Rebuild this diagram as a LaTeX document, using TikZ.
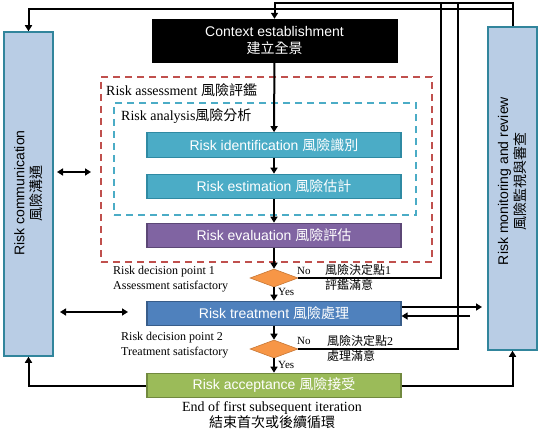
\documentclass[tikz,border=0pt]{standalone}
\usepackage{fontspec}
\setmainfont{Liberation Serif}
\newfontfamily\arial{Liberation Sans}
\newfontfamily\cjk{Noto Sans CJK TC}
\usetikzlibrary{arrows.meta,shapes.geometric}
\definecolor{idfill}{HTML}{4BACC6}
\definecolor{idbord}{HTML}{2F8AA3}
\definecolor{evfill}{HTML}{8064A2}
\definecolor{evbord}{HTML}{5C4776}
\definecolor{trfill}{HTML}{4F81BD}
\definecolor{trbord}{HTML}{385D8A}
\definecolor{acfill}{HTML}{9BBB59}
\definecolor{acbord}{HTML}{71893F}
\definecolor{dmfill}{HTML}{F79646}
\definecolor{dmbord}{HTML}{C77735}
\definecolor{sidefill}{HTML}{B9CDE5}
\definecolor{sidebord}{HTML}{31859C}
\definecolor{reddash}{HTML}{C0504D}
\definecolor{cyandash}{HTML}{4BACC6}
\tikzset{
  conn/.style={line width=2pt, -{Triangle[length=6pt,width=7pt]}},
  dconn/.style={line width=2pt, {Triangle[length=6pt,width=7pt]}-{Triangle[length=6pt,width=7pt]}},
  plain/.style={line width=2pt},
  stepbox/.style={rectangle, minimum width=254pt, minimum height=24.5pt, draw, line width=1.2pt,
    text=white, font=\arial\fontsize{14}{17}\selectfont, inner sep=0pt},
  sidebox/.style={rectangle, minimum width=49pt, fill=sidefill, draw=sidebord, line width=1.5pt,
    inner sep=0pt},
  sidetext/.style={rotate=90, align=center, font=\arial\fontsize{14}{17}\selectfont, inner sep=0pt},
  decision/.style={diamond, minimum width=48pt, minimum height=18pt, inner sep=0pt, aspect=2.7,
    fill=dmfill, draw=dmbord, line width=0.6pt},
  dashbox/.style={rectangle, line width=1.6pt, dash pattern=on 7pt off 5pt, inner sep=0pt},
  lbl/.style={inner sep=0pt, font=\fontsize{12}{15}\selectfont, align=left, anchor=west},
  biglbl/.style={inner sep=0pt, font=\fontsize{14}{16}\selectfont, anchor=west},
  yn/.style={inner sep=0pt, font=\fontsize{11}{13}\selectfont, anchor=west},
}
\begin{document}
\begin{tikzpicture}[x=1pt,y=-1pt]
\useasboundingbox (0,0) rectangle (540,433);
% dashed groups
\node[dashbox, draw=reddash, minimum width=331pt, minimum height=185pt] (assess) at (266.5,169.5) {};
\node[dashbox, draw=cyandash, minimum width=302pt, minimum height=112pt] (analysis) at (265,159) {};
\node[biglbl] (assesslbl) at (106,90) {Risk assessment {\cjk 風險評鑑}};
\node[biglbl] (analysislbl) at (121,116) {Risk analysis{\cjk 風險分析}};
% main column
\node[rectangle, fill=black, draw=black, minimum width=245pt, minimum height=43pt, inner sep=0pt,
  text=white, align=center, font=\arial\fontsize{14}{17}\selectfont] (ctx) at (274.5,40.5)
  {Context establishment\\{\cjk 建立全景}};
\node[stepbox, fill=idfill, draw=idbord] (ident) at (274,145) {Risk identification {\cjk 風險識別}};
\node[stepbox, fill=idfill, draw=idbord] (estim) at (274,186.5) {Risk estimation {\cjk 風險估計}};
\node[stepbox, fill=evfill, draw=evbord] (evalu) at (274,235.5) {Risk evaluation {\cjk 風險評估}};
\node[decision] (d1) at (274,278) {};
\node[stepbox, fill=trfill, draw=trbord] (treat) at (274,313.5) {Risk treatment {\cjk 風險處理}};
\node[decision] (d2) at (274,349) {};
\node[stepbox, fill=acfill, draw=acbord] (accept) at (274,385.5) {Risk acceptance {\cjk 風險接受}};
% side boxes
\node[sidebox, minimum height=324pt] (comm) at (28.5,194) {};
\node[sidetext] (commtxt) at (28.5,193) {Risk communication\\{\cjk 風險溝通}};
\node[sidebox, minimum height=323pt] (mon) at (512.5,188.5) {};
\node[sidetext] (montxt) at (512,181) {Risk monitoring and review\\{\cjk 風險監視與審查}};
% labels
\node[lbl] (dp1) at (113,279.5) {Risk decision point 1\\Assessment satisfactory};
\node[lbl] (dp2) at (121,345.5) {Risk decision point 2\\Treatment satisfactory};
\node[lbl] (dp1c) at (325,277.5) {{\cjk 風險決定點}1\\{\cjk 評鑑滿意}};
\node[lbl] (dp2c) at (327,348.5) {{\cjk 風險決定點}2\\{\cjk 處理滿意}};
\node[yn] (no1) at (297,271) {No};
\node[yn] (no2) at (297,341) {No};
\node[yn] (yes1) at (278,292) {Yes};
\node[yn] (yes2) at (278,365) {Yes};
\node[inner sep=0pt, align=center, font=\fontsize{14}{16}\selectfont] (endlbl) at (272,415)
  {End of first subsequent iteration\\{\cjk 結束首次或後續循環}};
% coordinates
\coordinate (ytop) at (0,3);
\coordinate (ysec) at (0,9);
\coordinate (xno1) at (441,0);
\coordinate (xno2) at (458,0);
\coordinate (tout) at (482,307);
\coordinate (tin) at (470,316);
\coordinate (la1) at (57,172);
\coordinate (la2) at (91,172);
\coordinate (lb1) at (60,312);
\coordinate (lb2) at (128,312);
% connectors main column
\draw[conn] (ctx) -- (ident);
\draw[conn] (ident) -- (estim);
\draw[conn] (estim) -- (evalu);
\draw[conn] (evalu) -- (d1);
\draw[conn] (d1) -- (treat);
\draw[conn] (treat) -- (d2);
\draw[conn] (d2) -- (accept);
% feedback loops
\draw[conn] (mon.north) -- (mon.north |- ytop) -| (ctx.north);
\draw[conn] (mon.north |- ysec) -| (comm.north);
\draw[plain] (d1.east) -| (xno1 |- ytop);
\draw[plain] (d2.east) -| (xno2 |- ytop);
\draw[conn] (accept.west) -| (comm.south);
\draw[conn] (accept.east) -| (mon.south);
\draw[conn] (treat.east |- tout) -- (tout);
\draw[conn] (tin) -- (treat.east |- tin);
\draw[dconn] (la1) -- (la2);
\draw[dconn] (lb1) -- (lb2);
\end{tikzpicture}
\end{document}
